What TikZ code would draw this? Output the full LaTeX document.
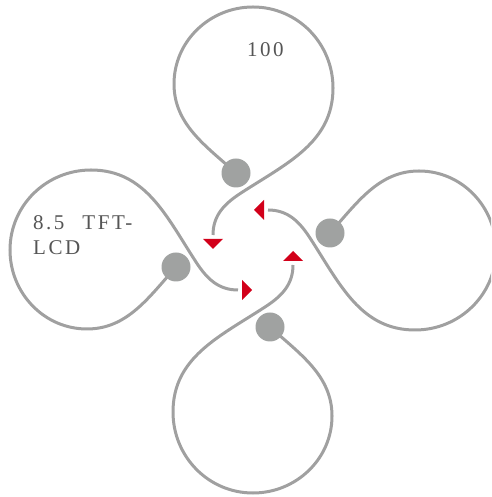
\documentclass[tikz,border=0pt]{standalone}
\usepackage{fontspec}
\newfontfamily\lblfont[LetterSpace=12]{Liberation Serif}
\definecolor{loopgray}{HTML}{A0A0A0}
\definecolor{dotgray}{HTML}{A0A2A1}
\definecolor{arrowred}{HTML}{D2001A}
\definecolor{textgray}{HTML}{555555}
\tikzset{
  loopline/.style={draw=loopgray, line width=3pt},
  graydot/.style={circle, fill=dotgray, minimum size=29pt, inner sep=0pt},
  redtip/.style={fill=arrowred},
  lbl/.style={text=textgray, font=\lblfont\fontsize{21}{25}\selectfont, inner sep=0pt, align=left}
}
\begin{document}
\begin{tikzpicture}[x=1pt,y=1pt]
\useasboundingbox (0,0) rectangle (491,497);
\clip (0,0) rectangle (491,497);
\foreach \i/\nm in {0/a,1/b,2/c,3/d}{
  \begin{scope}[shift={(253,247)}, rotate=-90*\i]
    \coordinate (s\nm) at (-17,77);
    \coordinate (e\nm) at (-40,15);
    \draw[loopline] (s\nm)
      to[out=138, in=-90, looseness=0.95] (-79,166)
      to[out=90, in=180] (0,243)
      to[out=0, in=90] (80,162)
      to[out=-90, in=33] (-12,57)
      to[out=213, in=90] (e\nm);
    \node[graydot] (dot\nm) at (s\nm) {};
    \fill[redtip] (-50,11) -- (-30,11) -- (-40,1) -- cycle;
  \end{scope}
}
\node[lbl, anchor=base west] (t100) at (247,440) {100};
\node[lbl, anchor=base west] (ttft) at (33,267) {8.5\hspace{18pt}TFT-};
\node[lbl, anchor=base west] (tlcd) at (33,242) {LCD};
\end{tikzpicture}
\end{document}
